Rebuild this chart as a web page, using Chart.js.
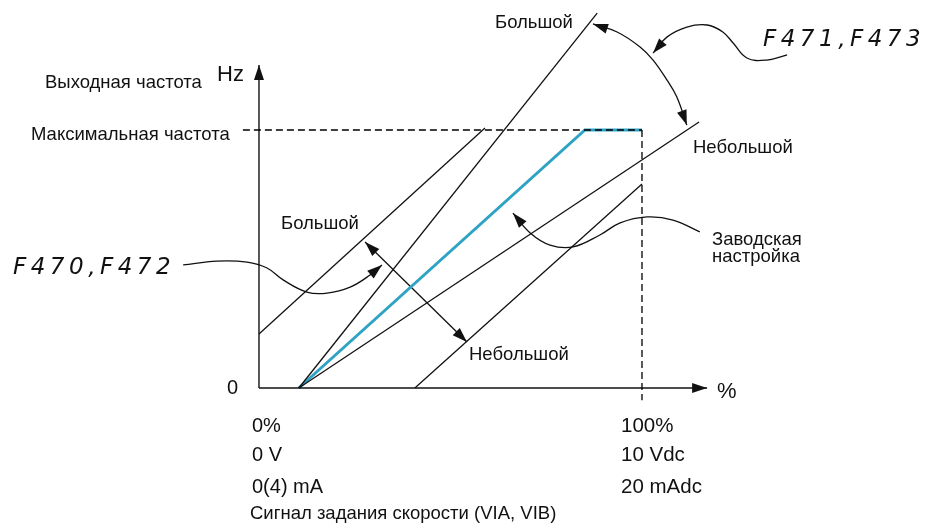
<!DOCTYPE html>
<html>
<head>
<meta charset="utf-8">
<script src="https://cdn.jsdelivr.net/npm/chart.js@4.4.1/dist/chart.umd.min.js"></script>
<style>
  html, body { margin: 0; padding: 0; background: #fff; }
  #wrap { width: 931px; height: 524px; position: relative; }
</style>
</head>
<body>
<div id="wrap"><canvas id="chart"></canvas></div>
<script>
// x: input signal in %, y: output frequency in % of max frequency

// factory setting (blue)
const factoryX = [10.4, 85.1, 100];
const factoryY = [0, 100, 100];

// gain lines through the bias point
const steepX = [10.4, 88.3];
const steepY = [0, 145.3];
const shallowX = [10.4, 114.9];
const shallowY = [0, 103.1];

// bias lines (parallel to factory setting)
const biasUpX = [0, 59];
const biasUpY = [20.9, 100.8];
const biasDownX = [40.7, 100];
const biasDownY = [0, 79.1];

// dashed reference lines
const maxFreqX = [-4.2, 100];
const maxFreqY = [100, 100];
const fullScaleX = [100, 100];
const fullScaleY = [100, -4.7];

// axes
const yAxisX = [0, 0];
const yAxisY = [0, 125.2];
const xAxisX = [0, 117];
const xAxisY = [0, 0];

// bias double arrow
const biasArrowX = [27.7, 54.3];
const biasArrowY = [56.6, 17.8];

// gain arc (double arrow)
const gainArcX = [87.2, 93.5, 99.5, 102.9, 106.5, 109.1, 111.7];
const gainArcY = [141.1, 138.0, 132.2, 127.1, 119.4, 112.8, 101.9];

// leader curves
const leadF471X = [137.9, 132.6, 127.4, 123.8, 121.1, 117.0, 111.7, 106.5, 102.9];
const leadF471Y = [129.1, 127.1, 127.9, 133.7, 138.0, 140.7, 139.9, 136.0, 129.8];
const leadF470X = [-19.8, -11.0, -3.1, 2.1, 6.3, 12.5, 17.8, 23.8, 29.0, 32.1];
const leadF470Y = [47.7, 49.2, 48.8, 46.5, 41.9, 37.2, 36.8, 39.1, 43.8, 47.7];
const leadFactoryX = [115.1, 108.1, 101.3, 94.3, 89.0, 82.0, 76.0, 70.8, 66.3];
const leadFactoryY = [60.5, 65.1, 66.3, 64.0, 59.3, 54.7, 55.4, 60.1, 67.8];

function pts(xs, ys) {
  return xs.map((x, i) => ({ x: x, y: ys[i] }));
}

function line(label, xs, ys, extra) {
  return Object.assign({
    label: label,
    data: pts(xs, ys),
    showLine: true,
    borderColor: '#111',
    borderWidth: 1.3,
    pointRadius: 0,
    tension: 0,
    fill: false
  }, extra || {});
}

const datasets = [
  line('maxFreq', maxFreqX, maxFreqY, { borderDash: [7, 4], borderWidth: 1.3, borderColor: '#000' }),
  line('fullScale', fullScaleX, fullScaleY, { borderDash: [7, 4], borderWidth: 1.3, borderColor: '#000' }),
  line('yAxis', yAxisX, yAxisY, { arrowEnd: true, borderWidth: 1.4 }),
  line('xAxis', xAxisX, xAxisY, { arrowEnd: true, borderWidth: 1.4 }),
  line('steep', steepX, steepY),
  line('shallow', shallowX, shallowY),
  line('biasUp', biasUpX, biasUpY),
  line('biasDown', biasDownX, biasDownY),
  line('factory', factoryX, factoryY, { borderColor: '#2fa3c4', borderWidth: 3 }),
  line('biasArrow', biasArrowX, biasArrowY, { arrowStart: true, arrowEnd: true }),
  line('gainArc', gainArcX, gainArcY, { tension: 0.4, arrowStart: true, arrowEnd: true }),
  line('leadF471', leadF471X, leadF471Y, { tension: 0.4, arrowEnd: true }),
  line('leadF470', leadF470X, leadF470Y, { tension: 0.4, arrowEnd: true }),
  line('leadFactory', leadFactoryX, leadFactoryY, { tension: 0.4, arrowEnd: true })
];

// arrow heads drawn at the ends of flagged datasets
const arrowPlugin = {
  id: 'arrows',
  afterDatasetsDraw(chart) {
    const ctx = chart.ctx;
    const xs = chart.scales.x, ys = chart.scales.y;
    chart.data.datasets.forEach(ds => {
      const p = ds.data.map(d => ({ x: xs.getPixelForValue(d.x), y: ys.getPixelForValue(d.y) }));
      const head = (tip, from) => {
        const a = Math.atan2(tip.y - from.y, tip.x - from.x);
        const len = 15, half = 5;
        ctx.save();
        ctx.fillStyle = '#111';
        ctx.beginPath();
        ctx.moveTo(tip.x, tip.y);
        ctx.lineTo(tip.x - len * Math.cos(a) + half * Math.sin(a), tip.y - len * Math.sin(a) - half * Math.cos(a));
        ctx.lineTo(tip.x - len * Math.cos(a) - half * Math.sin(a), tip.y - len * Math.sin(a) + half * Math.cos(a));
        ctx.closePath();
        ctx.fill();
        ctx.restore();
      };
      if (ds.arrowEnd) head(p[p.length - 1], p[p.length - 2]);
      if (ds.arrowStart) head(p[0], p[1]);
    });
  }
};

// text labels (pixel positions)
const labelPlugin = {
  id: 'labels',
  afterDraw(chart) {
    const ctx = chart.ctx;
    const sans = '"Liberation Sans", Arial, sans-serif';
    const put = (txt, x, y, size, opts) => {
      opts = opts || {};
      ctx.save();
      ctx.fillStyle = '#111';
      ctx.font = (opts.style || '') + ' ' + size + 'px ' + (opts.family || sans);
      ctx.textBaseline = 'middle';
      ctx.textAlign = opts.align || 'left';
      if (opts.spacing) ctx.letterSpacing = opts.spacing;
      ctx.fillText(txt, x, y);
      ctx.restore();
    };
    put('Выходная частота', 45, 83, 18.5);
    put('Hz', 217, 75, 22);
    put('Максимальная частота', 31, 135, 18.5);
    put('Большой', 495, 23, 18.5);
    put('Небольшой', 693, 148, 18.5);
    put('Большой', 281, 224, 18.5);
    put('Заводская', 712, 240, 18.5);
    put('настройка', 712, 257, 18.5);
    put('Небольшой', 469, 355, 18.5);
    put('0', 227, 388, 20);
    put('%', 717, 392, 22);
    put('0%', 252, 426, 20);
    put('0 V', 252, 455, 20);
    put('0(4) mA', 252, 487, 20);
    put('100%', 621, 426, 20.5);
    put('10 Vdc', 621, 455, 20.5);
    put('20 mAdc', 621, 487, 20.5);
    put('Сигнал задания скорости (VIA, VIB)', 250, 514, 18.5);
    const seg = '"DejaVu Sans", sans-serif';
    put('F471,F473', 763, 40, 23, { style: 'italic 200', family: seg, spacing: '4.5px' });
    put('F470,F472', 13, 268, 23, { style: 'italic 200', family: seg, spacing: '4.5px' });
  }
};

new Chart(document.getElementById('chart'), {
  type: 'scatter',
  data: { datasets: datasets },
  options: {
    responsive: true,
    maintainAspectRatio: false,
    animation: false,
    layout: { padding: 0 },
    plugins: {
      legend: { display: false },
      tooltip: { enabled: false }
    },
    scales: {
      x: { type: 'linear', min: -67.62, max: 175.46, display: false },
      y: { type: 'linear', min: -52.71, max: 150.39, display: false }
    }
  },
  plugins: [arrowPlugin, labelPlugin]
});
</script>
</body>
</html>
